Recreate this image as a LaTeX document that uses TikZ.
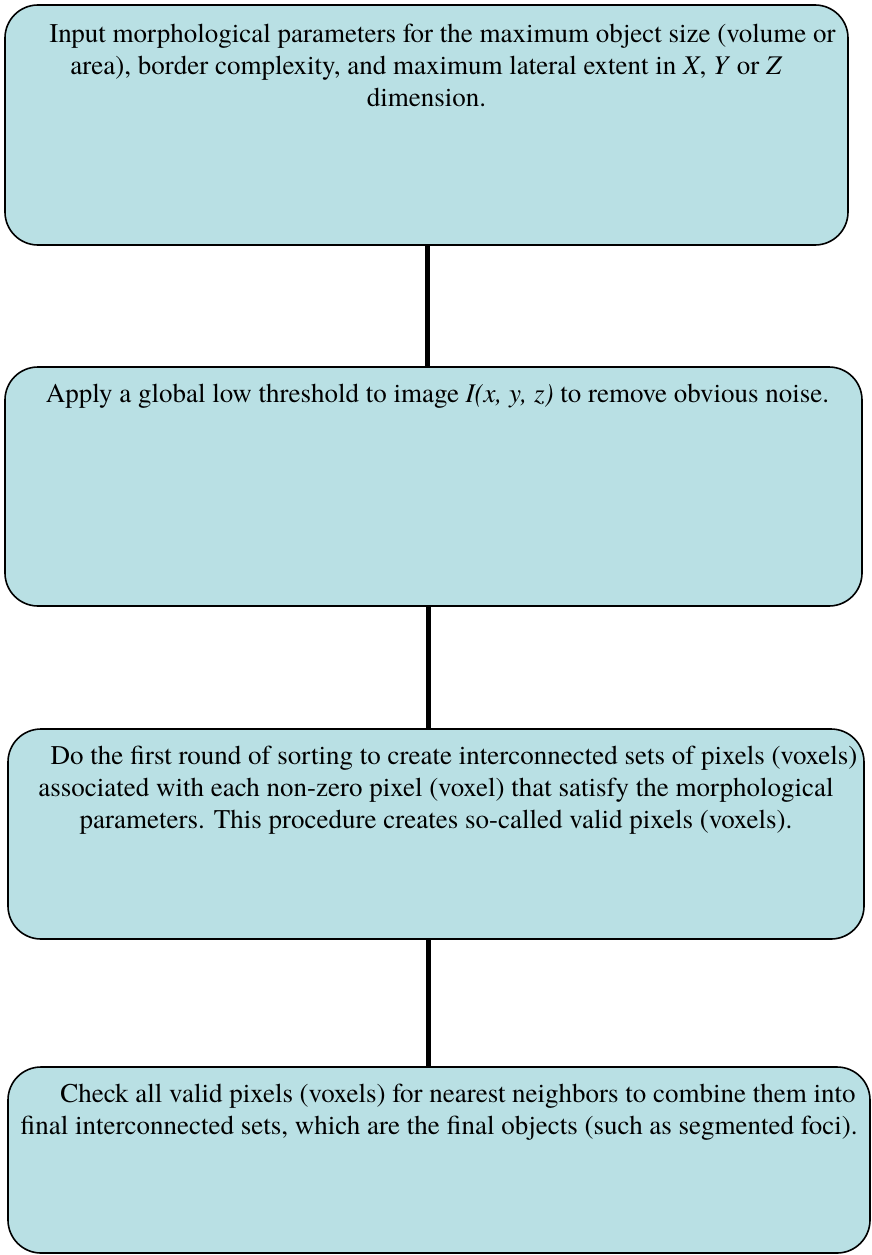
\documentclass[tikz,border=0pt]{standalone}
\usepackage{fontspec}
\IfFontExistsTF{texgyretermes-regular.otf}
  {\setmainfont{texgyretermes}[Extension=.otf,UprightFont=*-regular,ItalicFont=*-italic,BoldFont=*-bold,BoldItalicFont=*-bolditalic]}
  {\setmainfont{Liberation Serif}}
\definecolor{boxfill}{RGB}{185,224,228}
\begin{document}
\begin{tikzpicture}[x=1pt,y=1pt,
    stepbox/.style={draw,line width=1.6pt,fill=boxfill,rounded corners=33pt,inner sep=0pt,outer sep=0pt},
    steptext/.style={anchor=north,align=center,inner sep=0pt,font=\fontsize{27}{32}\selectfont},
    link/.style={line width=5pt}]
    \useasboundingbox (0,0) rectangle (871,-1255);
    \node[stepbox,minimum width=843pt,minimum height=240pt](b1) at (426.5,-125){};
    \node[stepbox,minimum width=857pt,minimum height=239pt](b2) at (433.5,-486.5){};
    \node[stepbox,minimum width=856pt,minimum height=210pt](b3) at (436,-834){};
    \node[stepbox,minimum width=862pt,minimum height=186pt](b4) at (439,-1160){};
    \draw[link](427.5,0 |- b1.south)--(427.5,0 |- b2.north);
    \draw[link](428.5,0 |- b2.south)--(428.5,0 |- b3.north);
    \draw[link](428,0 |- b3.south)--(428,0 |- b4.north);

    \node[steptext](t1) at (426.5,-24){\hspace*{32pt}Input morphological parameters for the maximum object size (volume or\\area), border complexity, and maximum lateral extent in \textit{X}, \textit{Y} or \textit{Z}\\dimension.};
    \node[steptext](t2) at (433.5,-384){\hspace*{8pt}Apply a global low threshold to image \textit{I(x, y, z)} to remove obvious noise.};
    \node[steptext](t3) at (436,-746){\hspace*{36pt}Do the first round of sorting to create interconnected sets of pixels (voxels)\\associated with each non-zero pixel (voxel) that satisfy the morphological\\parameters. This procedure creates so-called valid pixels (voxels).};
    \node[steptext](t4) at (439,-1084){\hspace*{38pt}Check all valid pixels (voxels) for nearest neighbors to combine them into\\final interconnected sets, which are the final objects (such as segmented foci).};
\end{tikzpicture}
\end{document}
